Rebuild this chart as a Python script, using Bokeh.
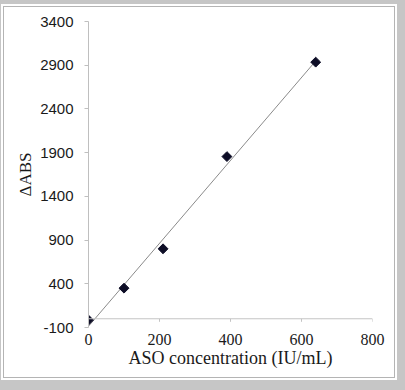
import numpy as np
from bokeh.plotting import figure
from bokeh.models import Range1d, Span, FixedTicker
from bokeh.embed import file_html
from bokeh.resources import INLINE

# Data
aso_conc = [0, 100, 210, 390, 640]          # IU/mL
delta_abs = [-15, 350, 800, 1855, 2935]     # ΔABS

x_ticks = [0, 200, 400, 600, 800]
y_ticks = [-100, 400, 900, 1400, 1900, 2400, 2900, 3400]
y_tick_labels = {t: str(t) for t in y_ticks}

p = figure(width=392, height=372, output_backend="svg", toolbar_location=None,
           x_range=Range1d(0, 800), y_range=Range1d(-100, 3400),
           min_border_left=84, min_border_right=24, min_border_top=14, min_border_bottom=52,
           background_fill_color="white", border_fill_color="white")
p.styles = {"position": "relative", "left": "3px", "top": "6px", "border": "1px solid #b4b4b4",
            "box-shadow": "0 0 0 2px #ffffff, 0 0 0 14px #c6c6c6"}
p.outline_line_color = None
p.xgrid.visible = False
p.ygrid.visible = False

# y axis
p.yaxis.ticker = FixedTicker(ticks=y_ticks)
p.yaxis.major_label_overrides = y_tick_labels
p.yaxis.axis_line_color = "#bfbfbf"
p.yaxis.major_tick_line_color = "#bfbfbf"
p.yaxis.major_tick_out = 4
p.yaxis.major_tick_in = 0
p.yaxis.minor_tick_line_color = None
p.yaxis.major_label_standoff = 11
p.yaxis.major_label_text_font = "Liberation Sans"
p.yaxis.major_label_text_font_size = "15px"
p.yaxis.major_label_text_color = "#1a1a1a"
p.yaxis.axis_label = "ΔABS"
p.yaxis.axis_label_text_font = "Liberation Serif"
p.yaxis.axis_label_text_font_size = "17px"
p.yaxis.axis_label_text_font_style = "normal"
p.yaxis.axis_label_text_color = "#1a1a1a"
p.yaxis.axis_label_standoff = 2

# x axis (labels only; axis line drawn at y=0)
p.xaxis.ticker = FixedTicker(ticks=x_ticks)
p.xaxis.axis_line_color = None
p.xaxis.major_tick_line_color = None
p.xaxis.minor_tick_line_color = None
p.xaxis.major_label_standoff = 0
p.xaxis.major_label_text_font = "Liberation Serif"
p.xaxis.major_label_text_font_size = "16px"
p.xaxis.major_label_text_color = "#1a1a1a"
p.xaxis.axis_label = "ASO concentration (IU/mL)"
p.xaxis.axis_label_text_font = "Liberation Serif"
p.xaxis.axis_label_text_font_size = "18px"
p.xaxis.axis_label_text_font_style = "normal"
p.xaxis.axis_label_text_color = "#1a1a1a"
p.xaxis.axis_label_standoff = 0

p.add_layout(Span(location=0, dimension="width", line_color="#c4c4c4", line_width=1))
p.segment(x0=x_ticks, y0=[0] * len(x_ticks), x1=x_ticks, y1=[-35] * len(x_ticks),
          line_color="#c4c4c4", line_width=1)

# linear trendline
slope, intercept = np.polyfit(aso_conc, delta_abs, 1)
tx = [min(aso_conc), max(aso_conc)]
p.line(x=tx, y=[slope * v + intercept for v in tx], line_color="#8a8a8a", line_width=1)

p.scatter(x=aso_conc, y=delta_abs, marker="square", angle=np.pi / 4, size=7,
          fill_color="#0d0d26", line_color="#0d0d26")

open("out.html", "w").write(file_html(p, INLINE))
